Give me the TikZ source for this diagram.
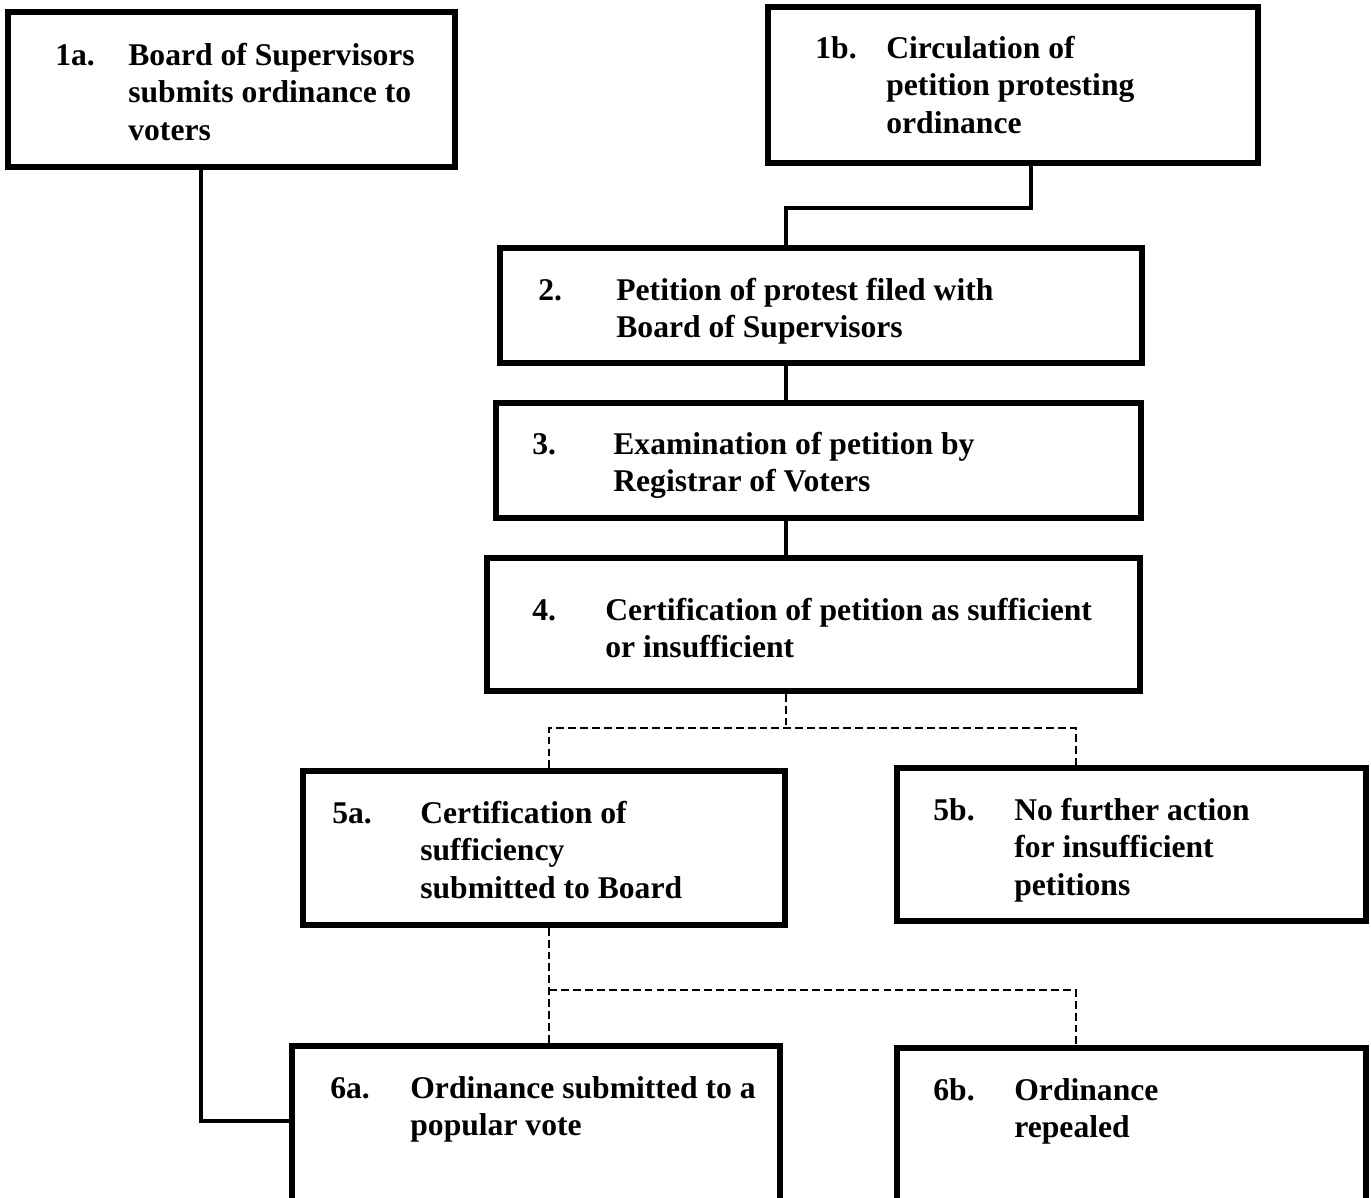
\documentclass[tikz,border=0pt]{standalone}
\usepackage{fontspec}
\setmainfont{Liberation Serif}
\usetikzlibrary{fit}
\newcommand{\steplines}[1]{\begin{tabular}[t]{@{}l@{}}#1\end{tabular}}

\begin{document}
\begin{tikzpicture}[x=0.02cm, y=-0.02cm,
  stepbox/.style={draw, line width=3pt, inner sep=0pt, rectangle},
  num/.style={anchor=base west, inner sep=0pt, font=\fontsize{18}{21.6}\selectfont\bfseries},
  txt/.style={num},
  link/.style={line width=1.8pt},
  dlink/.style={line width=1.4pt, dash pattern=on 4.5pt off 2.3pt}]

\useasboundingbox (0,0) rectangle (1371,1197);
\clip (0,0) rectangle (1371,1197);

% boxes
\node(b1a)[stepbox, fit={(8,12) (455,167)}]{};
\node(b1b)[stepbox, fit={(768,7) (1258,163)}]{};
\node(b2)[stepbox, fit={(500,248) (1142,363)}]{};
\node(b3)[stepbox, fit={(496,403) (1141,518)}]{};
\node(b4)[stepbox, fit={(487,558) (1140,691)}]{};
\node(b5a)[stepbox, fit={(303,771) (785,925)}]{};
\node(b5b)[stepbox, fit={(897,768) (1366,921)}]{};
\node(b6a)[stepbox, fit={(292,1046) (780,1240)}]{};
\node(b6b)[stepbox, fit={(897,1048) (1366,1240)}]{};

% labels
\node[num] at (55,65) {1a.};
\node[txt] at (128,65) {\steplines{Board of Supervisors\\submits ordinance to\\voters}};
\node[num] at (815,58) {1b.};
\node[txt] at (886,58) {\steplines{Circulation of\\petition protesting\\ordinance}};
\node[num] at (538,300) {2.};
\node[txt] at (616,300) {\steplines{Petition of protest filed with\\Board of Supervisors}};
\node[num] at (532,454) {3.};
\node[txt] at (613,454) {\steplines{Examination of petition by\\Registrar of Voters}};
\node[num] at (532,620) {4.};
\node[txt] at (605,620) {\steplines{Certification of petition as sufficient\\or insufficient}};
\node[num] at (332,823) {5a.};
\node[txt] at (420,823) {\steplines{Certification of\\sufficiency\\submitted to Board}};
\node[num] at (933,820) {5b.};
\node[txt] at (1014,820) {\steplines{No further action\\for insufficient\\petitions}};
\node[num] at (330,1098) {6a.};
\node[txt] at (410,1098) {\steplines{Ordinance submitted to a\\popular vote}};
\node[num] at (933,1100) {6b.};
\node[txt] at (1014,1100) {\steplines{Ordinance\\repealed}};

% joints
\coordinate (j1a) at (201,1121);
\coordinate (j1b) at (1031,208);
\coordinate (j2) at (786,208);
\coordinate (d4) at (786,728);
\coordinate (d5l) at (549,728);
\coordinate (d5r) at (1076,728);
\coordinate (d6) at (549,990);
\coordinate (d6r) at (1076,990);

% solid connectors
\draw[link] (b1a.south -| j1a) -- (j1a) -- (j1a -| b6a.west);
\draw[link] (b1b.south -| j1b) -- (j1b) -- (j2) -- (b2.north -| j2);
\draw[link] (b2.south -| j2) -- (b3.north -| j2);
\draw[link] (b3.south -| j2) -- (b4.north -| j2);

% dashed connectors
\draw[dlink] (b4.south -| d4) -- (d4);
\draw[dlink] (b5a.north -| d5l) -- (d5l) -- (d5r) -- (b5b.north -| d5r);
\draw[dlink] (b5a.south -| d6) -- (b6a.north -| d6);
\draw[dlink] (d6) -- (d6r) -- (b6b.north -| d6r);
\end{tikzpicture}
\end{document}
